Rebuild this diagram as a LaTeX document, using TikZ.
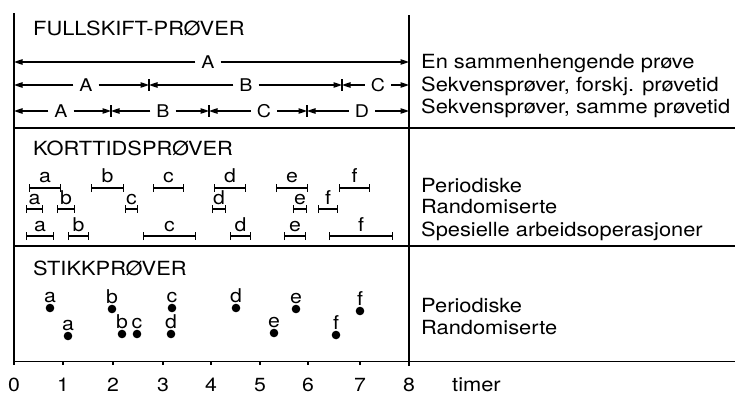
\documentclass[tikz,border=0pt]{standalone}
\usepackage{fontspec}
\setmainfont{TeX Gyre Heros}[FakeStretch=1.12]
\usetikzlibrary{arrows.meta}

\begin{document}
\begin{tikzpicture}[x=1pt,y=-1pt,
txt/.style={font=\fontsize{19.5}{21}\selectfont,inner sep=0pt,anchor=base west},
lbl/.style={font=\fontsize{19}{21}\selectfont,inner sep=0pt,anchor=base},
dim/.style={font=\fontsize{17.5}{19}\selectfont,inner ysep=0pt,inner xsep=6pt},
frame/.style={line width=1.3pt},
arr/.style={-{Triangle[length=8.5pt,width=5.5pt]},line width=1.1pt},
iv/.style={{Bar[width=8pt]}-{Bar[width=8pt]},line width=1.2pt},
sep/.style={line width=1.2pt}]
\useasboundingbox (0,0) rectangle (735,394);
% frame and axis
\draw[frame] (14,13) -- (14,361.5) -- (735,361.5);
\draw[frame] (409,15) -- (409,366);
\draw[frame] (14,128) -- (735,128); \draw[frame] (14,246) -- (735,246);
\draw[sep] (63,361.5) -- (63,365); \draw[sep] (113,361.5) -- (113,365); \draw[sep] (163,361.5) -- (163,365); \draw[sep] (211,361.5) -- (211,365);
\draw[sep] (260,361.5) -- (260,365); \draw[sep] (308,361.5) -- (308,365); \draw[sep] (360,361.5) -- (360,365); \draw[sep] (14,361.5) -- (14,365);
\node[lbl] (t0) at (14,391) {0}; \node[lbl] (t1) at (63,391) {1}; \node[lbl] (t2) at (113,391) {2};
\node[lbl] (t3) at (163,391) {3}; \node[lbl] (t4) at (211,391) {4}; \node[lbl] (t5) at (260,391) {5};
\node[lbl] (t6) at (308,391) {6}; \node[lbl] (t7) at (360,391) {7}; \node[lbl] (t8) at (409,391) {8};
\node[txt] (timer) at (452,391) {timer};
% fullskift
\node[txt] (full) at (33,35) {FULLSKIFT-PRØVER};
\coordinate (f0) at (14,62); \coordinate (f1) at (409,62);
\coordinate (s0) at (14,85); \coordinate (s1) at (149,85); \coordinate (s2) at (342,85); \coordinate (s3) at (409,85);
\coordinate (e0) at (14,111); \coordinate (e1) at (111,111); \coordinate (e2) at (209,111); \coordinate (e3) at (307,111); \coordinate (e4) at (409,111);
\node[dim] (fA) at (208,62) {A};
\node[dim] (sA) at (86,85) {A}; \node[dim] (sB) at (246,85) {B}; \node[dim] (sC) at (378,85) {C};
\node[dim] (eA) at (61,111) {A}; \node[dim] (eB) at (163,111) {B}; \node[dim] (eC) at (264,111) {C}; \node[dim] (eD) at (362,111) {D};
\draw[arr](fA)--(f0);\draw[arr](fA)--(f1);
\draw[arr](sA)--(s0);\draw[arr](sA)--(s1);\draw[arr](sB)--(s1);\draw[arr](sB)--(s2);\draw[arr](sC)--(s2);\draw[arr](sC)--(s3);
\draw[arr](eA)--(e0);\draw[arr](eA)--(e1);\draw[arr](eB)--(e1);\draw[arr](eB)--(e2);\draw[arr](eC)--(e2);\draw[arr](eC)--(e3);\draw[arr](eD)--(e3);\draw[arr](eD)--(e4);
\draw[sep] ([yshift=6pt]s1) -- ([yshift=-6pt]s1); \draw[sep] ([yshift=6pt]s2) -- ([yshift=-6pt]s2);
\draw[sep] ([yshift=6pt]e1) -- ([yshift=-6pt]e1); \draw[sep] ([yshift=6pt]e2) -- ([yshift=-6pt]e2); \draw[sep] ([yshift=6pt]e3) -- ([yshift=-6pt]e3);
\node[txt] (full1) at (421,68) {En sammenhengende prøve};
\node[txt] (full2) at (421,91) {Sekvensprøver, forskj. prøvetid};
\node[txt] (full3) at (421,113) {Sekvensprøver, samme prøvetid};
% korttid
\node[txt] (kort) at (33,155) {KORTTIDSPRØVER};
\draw[iv] (29,188) -- node[lbl,above=5pt] (pa) {a} (61,188); \draw[iv] (91,188) -- node[lbl,above=5pt] (pb) {b} (124,188);
\draw[iv] (153,188) -- node[lbl,above=5pt] (pc) {c} (184,188); \draw[iv] (214,188) -- node[lbl,above=5pt] (pd) {d} (246,188);
\draw[iv] (276,188) -- node[lbl,above=5pt] (pe) {e} (308,188); \draw[iv] (339,188) -- node[lbl,above=5pt] (pf) {f} (370,188);
\draw[iv] (26,209) -- node[lbl,above=4pt] (ra) {a} (43,209); \draw[iv] (57,209) -- node[lbl,above=4pt] (rb) {b} (75,209);
\draw[iv] (125,209) -- node[lbl,above=4pt] (rc) {c} (138,209); \draw[iv] (212,209) -- node[lbl,above=4pt] (rd) {d} (226,209);
\draw[iv] (293,209) -- node[lbl,above=4pt] (re) {e} (307,209); \draw[iv] (318,209) -- node[lbl,above=4pt] (rf) {f} (338,209);
\draw[iv] (26,236) -- node[lbl,above=4pt] (oa) {a} (54,236); \draw[iv] (68,236) -- node[lbl,above=4pt] (ob) {b} (89,236);
\draw[iv] (143,236) -- node[lbl,above=4pt] (oc) {c} (196,236); \draw[iv] (230,236) -- node[lbl,above=4pt] (od) {d} (251,236);
\draw[iv] (284,236) -- node[lbl,above=4pt] (oe) {e} (306,236); \draw[iv] (329,236) -- node[lbl,above=4pt] (of) {f} (393,236);
\node[txt] (kort1) at (421,192) {Periodiske};
\node[txt] (kort2) at (421,213) {Randomiserte};
\node[txt] (kort3) at (421,236) {Spesielle arbeidsoperasjoner};
% stikk
\node[txt] (stikk) at (33,275) {STIKKPRØVER};
\fill (50,308) circle (4.3pt) node[lbl,above=5pt] (da1) {a}; \fill (112,309) circle (4.3pt) node[lbl,above=5pt] (db1) {b};
\fill (172,308) circle (4.3pt) node[lbl,above=5pt] (dc1) {c}; \fill (236,308) circle (4.3pt) node[lbl,above=5pt] (dd1) {d};
\fill (296,309) circle (4.3pt) node[lbl,above=5pt] (de1) {e}; \fill (360,311) circle (4.3pt) node[lbl,above=5pt] (df1) {f};
\fill (68,336) circle (4.3pt) node[lbl,above=5pt] (da2) {a}; \fill (122,334) circle (4.3pt) node[lbl,above=5pt] (db2) {b};
\fill (137,334) circle (4.3pt) node[lbl,above=5pt] (dc2) {c}; \fill (171,334) circle (4.3pt) node[lbl,above=5pt] (dd2) {d};
\fill (274,333) circle (4.3pt) node[lbl,above=5pt] (de2) {e}; \fill (336,335) circle (4.3pt) node[lbl,above=5pt] (df2) {f};
\node[txt] (stikk1) at (421,312) {Periodiske};
\node[txt] (stikk2) at (421,334) {Randomiserte};
\end{tikzpicture}
\end{document}
